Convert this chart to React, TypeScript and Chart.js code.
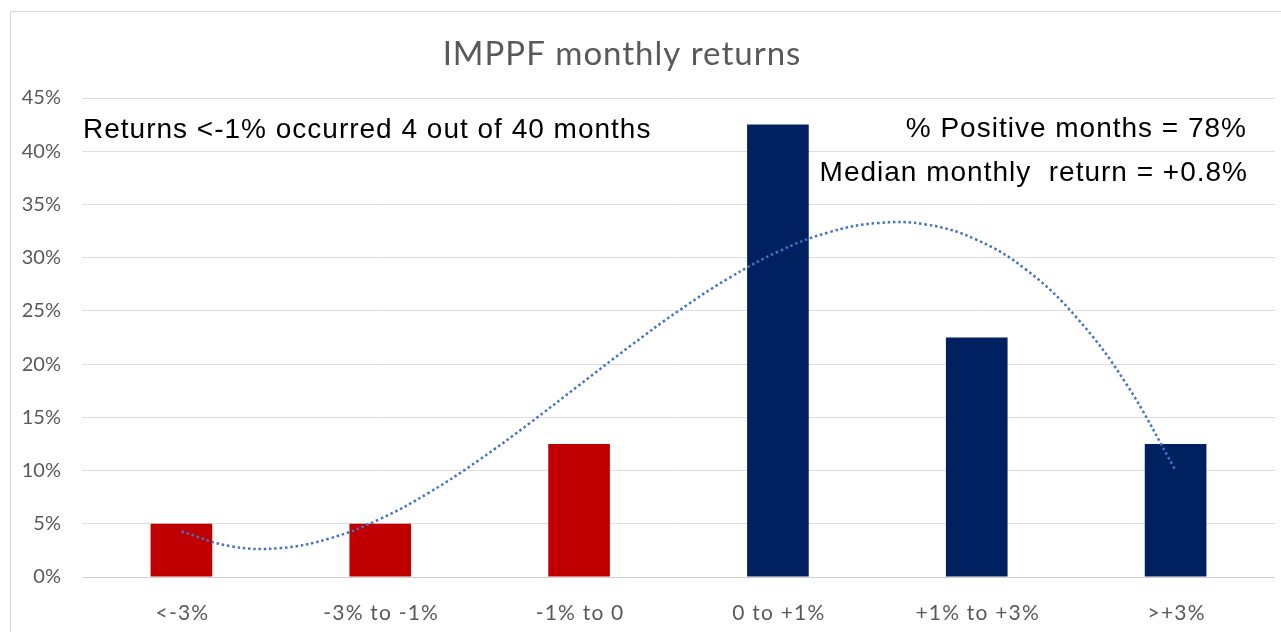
import React, { useEffect, useRef } from "react";
import { Chart, registerables } from "chart.js";

Chart.register(...registerables);

const categories = ["<-3%", "-3% to -1%", "-1% to 0", "0 to +1%", "+1% to +3%", ">+3%"];
const monthShare = [5, 5, 12.5, 42.5, 22.5, 12.5];
const barColors = ["#c00000", "#c00000", "#c00000", "#002060", "#002060", "#002060"];
const yTicks = [0, 5, 10, 15, 20, 25, 30, 35, 40, 45];
// trendline (polynomial) read at quarter-category steps
const trendX = [0, 0.25, 0.5, 0.75, 1, 1.25, 1.5, 1.75, 2, 2.25, 2.5, 2.75, 3, 3.25, 3.5, 3.75, 4, 4.25, 4.5, 4.75, 5];
const trendY = [4.27, 2.88, 2.72, 3.65, 5.46, 7.98, 11.03, 14.43, 18.02, 21.6, 25, 28.04, 30.56, 32.35, 33.25, 33.1, 31.68, 28.85, 24.42, 18.2, 10.02];

const titleText = "IMPPF monthly returns";
const noteLeft = "Returns <-1% occurred 4 out of 40 months";
const noteRight1 = "% Positive months = 78%";
const noteRight2 = "Median monthly  return = +0.8%";

const overlayPlugin = {
  id: "overlay",
  beforeDraw(chart: any) {
    const ctx = chart.ctx;
    ctx.save();
    ctx.fillStyle = "#ffffff";
    ctx.fillRect(0, 0, chart.width, chart.height);
    ctx.strokeStyle = "#d9d9d9";
    ctx.lineWidth = 1;
    ctx.beginPath();
    ctx.moveTo(10.5, chart.height);
    ctx.lineTo(10.5, 11.5);
    ctx.lineTo(chart.width, 11.5);
    ctx.stroke();
    ctx.restore();
  },
  afterDraw(chart: any) {
    const ctx = chart.ctx;
    ctx.save();
    ctx.fillStyle = "#595959";
    ctx.font = "33px Lato";
    try { (ctx as any).letterSpacing = "1px"; } catch (e) {}
    ctx.textAlign = "center";
    ctx.textBaseline = "alphabetic";
    ctx.fillText(titleText, 622, 65);

    // category labels
    const xs = chart.scales.x;
    ctx.font = "21px Lato";
    try { (ctx as any).letterSpacing = "1.2px"; } catch (e) {}
    categories.forEach((c, i) => {
      ctx.fillText(c, xs.getPixelForTick(i) + 1, 620);
    });

    ctx.fillStyle = "#000000";
    ctx.font = "28px 'Liberation Sans'";
    try { (ctx as any).letterSpacing = "1px"; } catch (e) {}
    ctx.textAlign = "left";
    ctx.fillText(noteLeft, 83, 138);
    ctx.textAlign = "right";
    ctx.fillText(noteRight1, 1247, 137);
    ctx.fillText(noteRight2, 1248, 181);
    try { (ctx as any).letterSpacing = "0px"; } catch (e) {}
    ctx.restore();
  },
};

export default function App() {
  const ref = useRef<HTMLCanvasElement | null>(null);
  useEffect(() => {
    document.body.style.margin = "0";
    const chart = new Chart(ref.current as HTMLCanvasElement, {
      type: "bar",
      data: {
        labels: categories,
        datasets: [
          {
            type: "line" as const,
            data: trendX.map((x, i) => ({ x, y: trendY[i] })),
            xAxisID: "x2",
            borderColor: "#4472c4",
            borderWidth: 2.5,
            borderDash: [2.5, 2.8],
            pointRadius: 0,
            tension: 0.4,
            fill: false,
            order: 0,
          } as any,
          {
            type: "bar" as const,
            data: monthShare,
            backgroundColor: barColors,
            borderWidth: 0,
            barPercentage: 0.31,
            categoryPercentage: 1,
            grouped: false,
            xAxisID: "x",
            order: 1,
          } as any,
        ],
      },
      options: {
        animation: false,
        responsive: true,
        maintainAspectRatio: false,
        layout: { padding: { top: 98, left: 0, right: 6, bottom: 0 } },
        plugins: { legend: { display: false }, title: { display: false }, tooltip: { enabled: false } },
        scales: {
          x: {
            type: "category",
            offset: true,
            grid: { display: false, drawTicks: false },
            border: { display: false },
            ticks: { display: false },
            afterFit: (s: any) => { s.height = 55; },
          },
          x2: {
            type: "linear",
            display: false,
            offset: false,
            grid: { offset: false },
            min: -0.5,
            max: 5.5,
          },
          y: {
            min: 0,
            max: 45,
            afterBuildTicks: (s: any) => { s.ticks = yTicks.map((v) => ({ value: v })); },
            grid: {
              color: (c: any) => (c.tick && c.tick.value === 0 ? "#cfcfcf" : "#dedede"),
              lineWidth: 1,
              drawTicks: false,
            },
            border: { display: false },
            ticks: {
              color: "#595959",
              font: { family: "Lato", size: 20 },
              padding: 21,
              callback: (v: any) => v + "%",
            },
            afterFit: (s: any) => { s.width = 82; },
          },
        },
      } as any,
      plugins: [overlayPlugin],
    });
    return () => chart.destroy();
  }, []);
  return (
    <div style={{ position: "absolute", left: 0, top: 0, width: 1281, height: 632 }}>
      <canvas ref={ref} />
    </div>
  );
}
